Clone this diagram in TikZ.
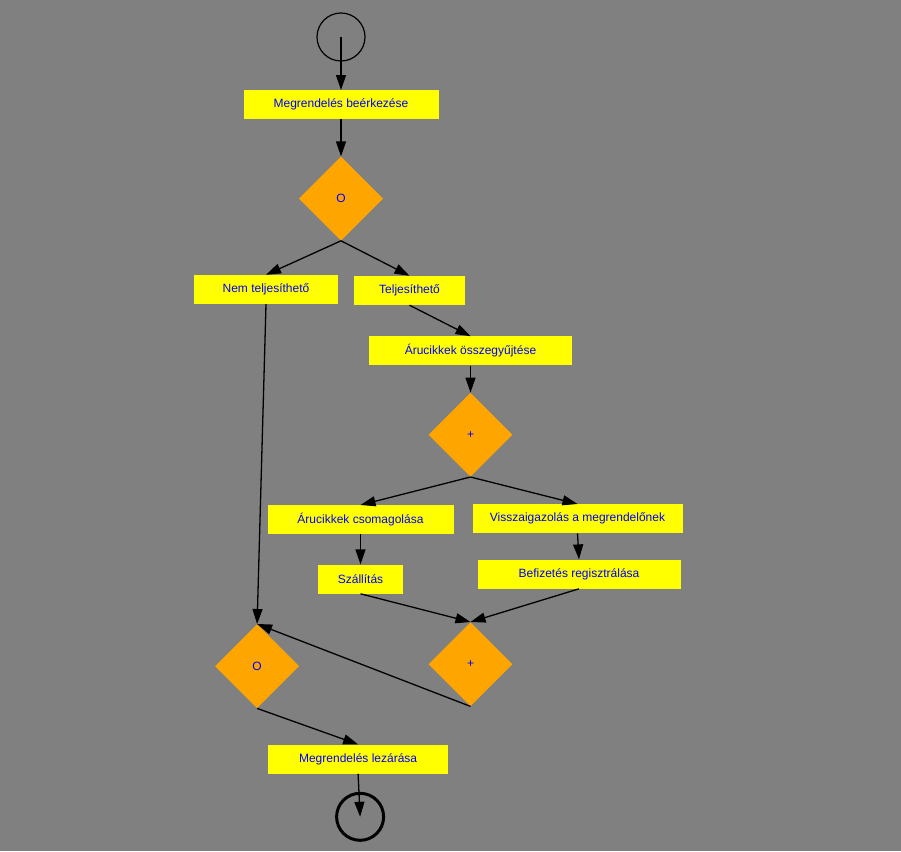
\documentclass[tikz,border=0pt]{standalone}
\usepackage{fontspec}
\setmainfont{Liberation Sans}
\usetikzlibrary{positioning,shapes.geometric,arrows.meta}

\definecolor{bggray}{HTML}{808080}
\definecolor{boxyellow}{HTML}{FFFF00}
\definecolor{gateorange}{HTML}{FFA500}
\definecolor{labelblue}{HTML}{0000FF}

\tikzset{
  task/.style={fill=boxyellow,text=labelblue,minimum height=29pt,inner sep=0pt,
               font=\fontsize{12}{14}\selectfont},
  gate/.style={diamond,fill=gateorange,text=labelblue,minimum size=84pt,inner sep=0pt,
               aspect=1,font=\fontsize{12}{14}\selectfont},
  flow/.style={line width=1.3pt,-{Triangle[length=15pt,width=10pt]}}
}

\begin{document}
\begin{tikzpicture}[x=1pt,y=1pt]
            \fill[bggray] (0,0) rectangle (901,-851);
            \useasboundingbox (0,0) rectangle (901,-851);
            \node[circle,draw,line width=1.2pt,minimum size=48pt](start) at (341,-37){};
            \node[task,minimum width=195pt](recv)[below=53pt of start.center]{Megrendelés beérkezése};
            \node[gate](d1)[below=37pt of recv]{O};
            \node[task,minimum width=144pt](nem)[below=34pt of d1,xshift=-75pt]{Nem teljesíthető};
            \node[task,minimum width=111pt](telj)[below=35pt of d1,xshift=68.5pt]{Teljesíthető};
            \node[task,minimum width=203pt](gyujt)[below=31pt of telj,xshift=61pt]{Árucikkek összegyűjtése};
            \node[gate](d2)[below=27pt of gyujt]{+};
            \node[task,minimum width=186pt](csom)[below=28pt of d2,xshift=-110pt]{Árucikkek csomagolása};
            \node[task,minimum width=210pt](vissza)[below=27pt of d2,xshift=107pt]{Visszaigazolás a megrendelőnek};
            \node[task,minimum width=85pt](szall)[below=30pt of csom]{Szállítás};
            \node[task,minimum width=203pt](befiz)[below=26pt of vissza,xshift=1.5pt]{Befizetés regisztrálása};
            \node[gate](d4)[below=145pt of d2]{+};
            \node[gate](d3)[left=129pt of d4,yshift=-2pt]{O};
            \node[task,minimum width=180pt](lezar)[below=36pt of d3,xshift=101pt]{Megrendelés lezárása};
            \node[circle,draw,line width=3pt,minimum size=47pt](end)[below=18pt of lezar,xshift=2pt]{};
            \draw[flow] (start.center) -- (recv.north);
            \draw[flow] (recv.south) -- (d1.north);
            \draw[flow] (d1.south) -- (nem.north);
            \draw[flow] (d1.south) -- (telj.north);
            \draw[flow] (nem.south) -- (d3.north);
            \draw[flow] (telj.south) -- (gyujt.north);
            \draw[flow] (gyujt.south) -- (d2.north);
            \draw[flow] (d2.south) -- (csom.north);
            \draw[flow] (d2.south) -- (vissza.north);
            \draw[flow] (csom.south) -- (szall.north);
            \draw[flow] (vissza.south) -- (befiz.north);
            \draw[flow] (szall.south) -- (d4.north);
            \draw[flow] (befiz.south) -- (d4.north);
            \draw[flow] (d4.south) -- (d3.north);
            \draw[flow] (d3.south) -- (lezar.north);
            \draw[flow] (lezar.south) -- (end.center);
        \end{tikzpicture}
\end{document}
